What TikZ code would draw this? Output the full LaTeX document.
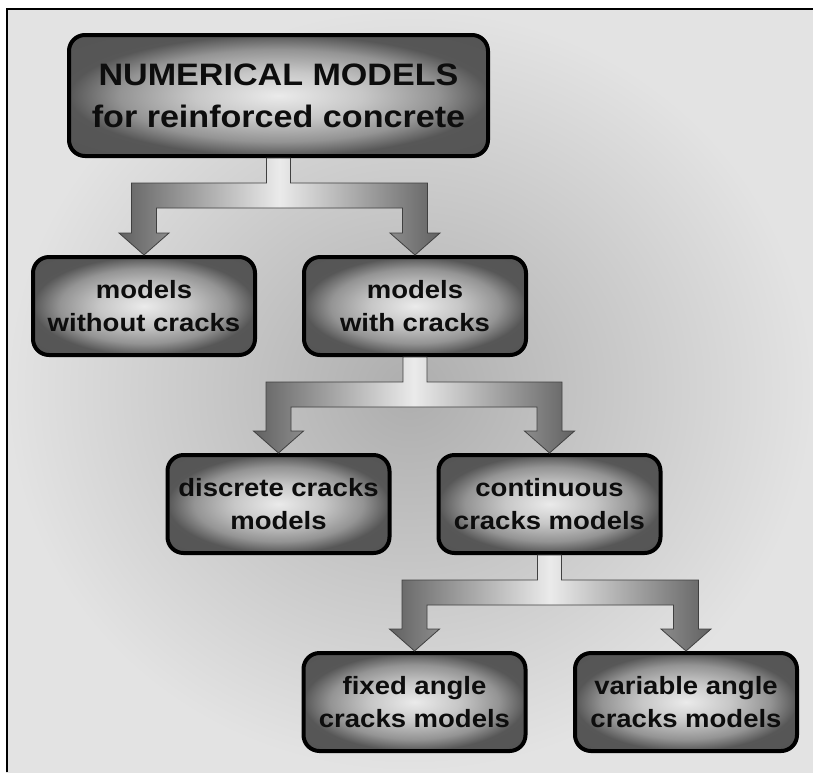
\documentclass[tikz,border=0pt]{standalone}
\usepackage{fontspec}
\setmainfont[FakeStretch=1.1]{Liberation Sans}
\usetikzlibrary{calc}
\pgfdeclareradialshading{boxglow}{\pgfpoint{0bp}{0bp}}{%
  color(0bp)=(black!8); color(10bp)=(black!22); color(19bp)=(black!42);
  color(25bp)=(black!66); color(50bp)=(black!68)}

\begin{document}
\begin{tikzpicture}[
    x=1pt, y=-1pt,
    box/.style={
      rectangle, draw=black, line width=4pt, rounded corners=16pt,
      shading=boxglow,
      minimum width=222pt, minimum height=98pt, align=center,
      font=\fontsize{25}{33}\selectfont\bfseries, text=black!95,
    },
    fork/.style={draw=black!75, line width=0.8pt,
      left color=black!62, right color=black!62, middle color=black!8},
  ]
  \useasboundingbox (0,0) rectangle (813,772);
  \fill[inner color=black!32, outer color=black!11] (6,8) rectangle (813,772);
  \draw[line width=2pt] (7,772) -- (7,9) -- (813,9);

  \node[
    box, minimum width=419pt, minimum height=121pt,
    font=\fontsize{31}{42}\selectfont\bfseries,
  ] (top) at (278.5,95.5) {NUMERICAL MODELS\\for reinforced concrete};

  \node[box] (woc) at (144,306) {models\\without cracks};
  \node[box] (wc) at (415,306) {models\\with cracks};
  \node[box] (disc) at (278.5,504) {discrete cracks\\models};
  \node[box] (cont) at (549.5,504) {continuous\\cracks models};
  \node[box] (fixed) at (414.5,702) {fixed angle\\cracks models};
  \node[box] (var) at (686,702) {variable angle\\cracks models};

  \foreach \from/\lft/\rgt in {top/woc/wc, wc/disc/cont, cont/fixed/var}
    \draw[fork] let \p1=(\from.south), \p2=(\lft.north), \p3=(\rgt.north) in
      (\x1-12pt,\y1) -- (\x1-12pt,\y1-25pt) -- (\x2-12.5pt,\y1-25pt)
      -- (\x2-12.5pt,\y2+22pt) -- (\x2-25pt,\y2+22pt) -- (\x2,\y2)
      -- (\x2+25pt,\y2+22pt) -- (\x2+12.5pt,\y2+22pt) -- (\x2+12.5pt,\y1-50pt)
      -- (\x3-12.5pt,\y1-50pt) -- (\x3-12.5pt,\y3+22pt) -- (\x3-25pt,\y3+22pt)
      -- (\x3,\y3) -- (\x3+25pt,\y3+22pt) -- (\x3+12.5pt,\y3+22pt)
      -- (\x3+12.5pt,\y1-25pt) -- (\x1+12pt,\y1-25pt) -- (\x1+12pt,\y1) -- cycle;
\end{tikzpicture}
\end{document}
